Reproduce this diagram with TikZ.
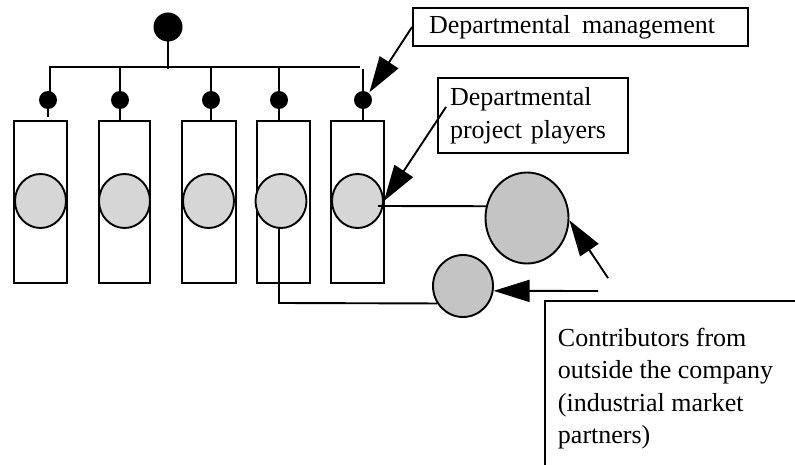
\documentclass[tikz,border=0pt]{standalone}
\usepackage{fontspec}
\setmainfont{Liberation Serif}
\usetikzlibrary{arrows.meta,shapes.geometric}
\definecolor{innergray}{HTML}{D6D6D6}
\definecolor{outergray}{HTML}{C4C4C4}
\begin{document}
\begin{tikzpicture}[x=1pt,y=-1pt, line width=1.9pt,
  topdot/.style={circle,fill=black,inner sep=0,minimum size=29pt},
  dot/.style={circle,fill=black,inner sep=0,minimum size=18pt},
  unit/.style={draw,inner sep=0,minimum height=162pt},
  player/.style={ellipse,draw,fill=innergray,inner sep=0,minimum width=51pt,minimum height=54pt},
  ext/.style={ellipse,draw,fill=outergray,inner sep=0},
  callout/.style={draw,align=left,inner ysep=0,font=\fontsize{26}{33}\selectfont},
  arr/.style={-{Triangle[length=36pt,width=22pt]}}]
\useasboundingbox (0,0) rectangle (795,465);

% top manager and bar
\node[topdot] (top) at (168,27) {};
\draw (top.center) -- (168,69);
\coordinate (barL) at (50,67);
\coordinate (barR) at (360,67);
\draw (50,100) -- (barL) -- (barR);

% units
\node[unit,minimum width=53pt] (b1) at (40.5,202) {};
\node[unit,minimum width=51pt] (b2) at (124.5,202) {};
\node[unit,minimum width=54pt] (b3) at (209,202) {};
\node[unit,minimum width=53pt] (b4) at (283.5,202) {};
\node[unit,minimum width=53pt] (b5) at (357.5,202) {};

% departmental managers
\node[dot] (m1) at (48,100) {};
\node[dot] (m2) at (120,100) {};
\node[dot] (m3) at (211,100) {};
\node[dot] (m4) at (279,100) {};
\node[dot] (m5) at (363,100) {};
\draw (m1.center) -- (48,117);
\draw (120,67) -- (120,121);
\draw (211,67) -- (211,121);
\draw (279,67) -- (279,121);
\draw (363,69) -- (363,121);

% project players
\node[player] (c1) at (40.5,201) {};
\node[player] (c2) at (124.5,201) {};
\node[player] (c3) at (208.5,201) {};
\node[player] (c4) at (281,201) {};
\node[player] (c5) at (357.5,201) {};

% external contributors
\node[ext,minimum width=83pt,minimum height=91pt] (bc) at (527,218) {};
\node[ext,minimum width=60pt,minimum height=62pt] (sc) at (463,286) {};

\coordinate (c5out) at (378,206);
\draw (c5out) -- (bc.164);
\coordinate (c4down) at (279,303);
\draw (279,228) -- (c4down) -- (sc.214);

% callouts
\node[callout,minimum width=335pt,minimum height=38pt,text width=303pt,inner xsep=16pt] (mgmt) at (580.5,27) {Departmental\hspace{3pt} management};
\node[callout,minimum width=190pt,minimum height=75pt,text width=166pt,inner xsep=12pt] (pp) at (533,115.5) {Departmental\\project players};

\coordinate (pptail) at (446,107);
\draw[arr] (mgmt.west) -- (m5.50);
\draw[arr] (pptail) -- (c5.east);

% contributors box
\draw (545,470) -- (545,301) -- (800,301);
\node[align=left,anchor=north west,inner sep=0,font=\fontsize{26}{32.5}\selectfont] (contrib) at (557,327) {Contributors from\\outside the company\\(industrial market\\partners)};

\coordinate (t1) at (608,278);
\coordinate (t2) at (598,291);
\draw[arr] (t1) -- (bc.-3);
\draw[arr] (t2) -- (sc.-9);
\end{tikzpicture}
\end{document}
